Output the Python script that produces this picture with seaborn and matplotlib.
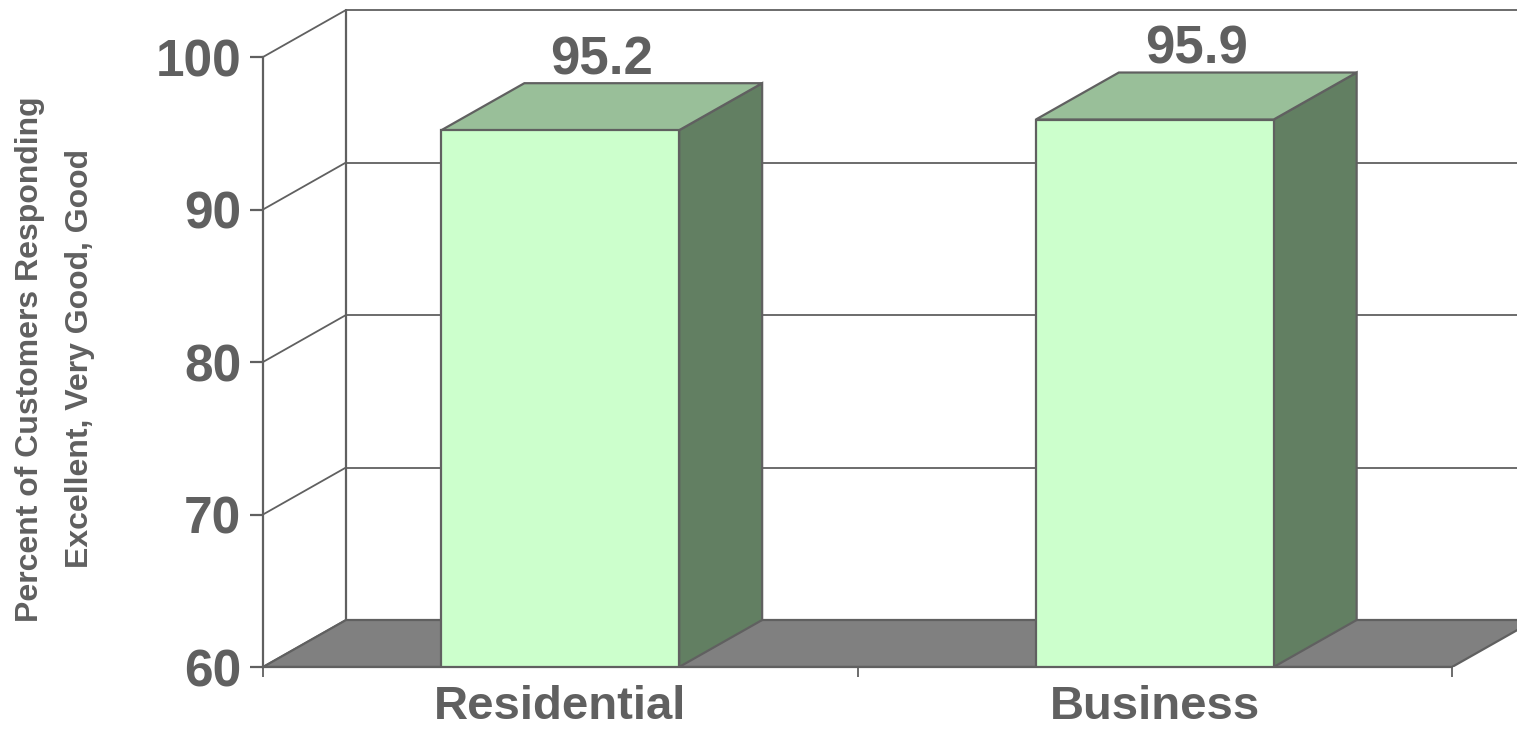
import matplotlib
matplotlib.use("Agg")
import matplotlib.pyplot as plt
import seaborn as sns
import numpy as np
from matplotlib.patches import Polygon

categories = ["Residential", "Business"]
values = [95.2, 95.9]
value_labels = ["95.2", "95.9"]
yticks = [60, 70, 80, 90, 100]
ylabel_lines = ["Percent of Customers Responding", "Excellent, Very Good, Good"]

sns.set_theme(style="white")
plt.rcParams['font.family'] = ['Liberation Sans', 'DejaVu Sans']

GRAY = "#606060"
FRONT = "#CCFFCC"
SIDE = "#627F62"
TOP = "#99BF99"
FLOOR = "#808080"

W, H = 1517, 740
fig = plt.figure(figsize=(W / 100, H / 100), dpi=100)
# pixel geometry of the front axis
x0px, x1px = 263, 1452
y60px, y100px = 667, 57
ax = fig.add_axes([x0px / W, (H - y60px) / H, (W - x0px) / W, y60px / H])
pxu_x = (x1px - x0px) / 2.0
pxu_y = (y60px - y100px) / 40.0
xmax = -0.5 + (W - x0px) / pxu_x
ymax = 60 + y60px / pxu_y
dx = 83 / pxu_x
dy = 47 / pxu_y
bw = 0.4

# floor
ax.add_patch(Polygon([(-0.5, 60), (1.5, 60), (1.5 + dx, 60 + dy), (-0.5 + dx, 60 + dy)],
                     closed=True, facecolor=FLOOR, edgecolor=GRAY, lw=1.6, zorder=1))
# back wall gridlines and left wall diagonals
for v in yticks:
    ax.plot([-0.5 + dx, xmax + 1], [v + dy, v + dy], color=GRAY, lw=1.3, zorder=0.5)
    ax.plot([-0.5, -0.5 + dx], [v, v + dy], color=GRAY, lw=1.3, zorder=0.5)
ax.plot([-0.5 + dx, -0.5 + dx], [60 + dy, 100 + dy], color=GRAY, lw=1.6, zorder=0.5)

# front faces
sns.barplot(x=categories, y=values, width=bw, color=FRONT, saturation=1,
            edgecolor=GRAY, linewidth=1.6, ax=ax, zorder=3)
for i, v in enumerate(values):
    r = i + bw / 2
    l = i - bw / 2
    ax.add_patch(Polygon([(r, 60), (r, v), (r + dx, v + dy), (r + dx, 60 + dy)],
                         closed=True, facecolor=SIDE, edgecolor=GRAY, lw=1.6, zorder=2.5))
    ax.add_patch(Polygon([(l, v), (r, v), (r + dx, v + dy), (l + dx, v + dy)],
                         closed=True, facecolor=TOP, edgecolor=GRAY, lw=1.6, zorder=2.5))
    ax.text(i + dx / 2, v + dy + 0.58, value_labels[i], ha="center", va="baseline",
            fontsize=38, fontweight="bold", color=GRAY)

ax.set_xlim(-0.5, xmax)
ax.set_ylim(60, ymax)
ax.set_xlabel("")
ax.set_ylabel("")
for s in ["top", "right"]:
    ax.spines[s].set_visible(False)
for s in ["left", "bottom"]:
    ax.spines[s].set_color(GRAY)
    ax.spines[s].set_linewidth(1.6)
    ax.spines[s].set_zorder(4)
ax.spines["left"].set_bounds(60, 100)
ax.spines["bottom"].set_bounds(-0.5, 1.5)

ax.set_yticks(yticks)
ax.set_yticklabels([str(t) for t in yticks])
ax.tick_params(axis="y", direction="out", length=9.5, width=1.6, color=GRAY,
               labelsize=37, labelcolor=GRAY, pad=6, left=True)
for t in ax.get_yticklabels():
    t.set_fontweight("bold")

ax.set_xticks([0, 1])
ax.set_xticklabels(categories)
ax.tick_params(axis="x", which="major", length=0, pad=13, labelsize=34, labelcolor=GRAY)
for t in ax.get_xticklabels():
    t.set_fontweight("bold")
ax.set_xticks([-0.5, 0.5, 1.5], minor=True)
ax.tick_params(axis="x", which="minor", direction="out", length=7.5, width=1.3,
               color=GRAY, bottom=True)
ax.patch.set_alpha(0)

fig.text(30 / W, 1 - 359 / H, ylabel_lines[0], rotation=90, ha="center", va="center",
         fontsize=23, fontweight="bold", color=GRAY)
fig.text(80 / W, 1 - 359 / H, ylabel_lines[1], rotation=90, ha="center", va="center",
         fontsize=23, fontweight="bold", color=GRAY)

fig.savefig("out.png", dpi=100)
